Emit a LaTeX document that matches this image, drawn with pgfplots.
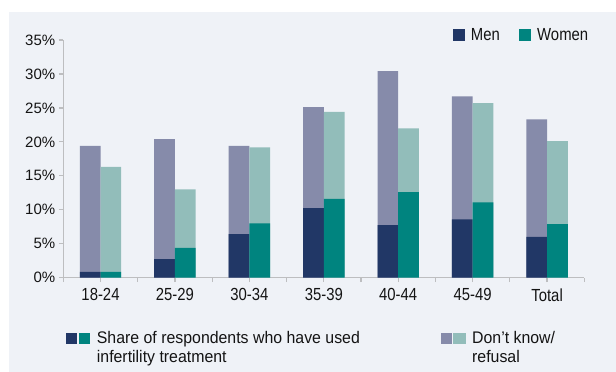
\documentclass[border=0pt]{standalone}
\usepackage{pgfplots}
\pgfplotsset{compat=1.18}
\usepackage{fontspec}
\setmainfont{Liberation Sans}
\newfontfamily\condA{Liberation Sans}[FakeStretch=0.85]
\newfontfamily\condB{Liberation Sans}[FakeStretch=0.945]

\definecolor{panel}{HTML}{EFF2F7}
\definecolor{menD}{HTML}{213766}
\definecolor{womD}{HTML}{00847F}
\definecolor{menL}{HTML}{868BAA}
\definecolor{womL}{HTML}{92BDBA}
\definecolor{axgray}{HTML}{BDBEC0}
\definecolor{txt}{HTML}{141414}

% totals (treatment + don't know) and treatment share, in %
\pgfplotstableread{
x menall womall mentr womtr
0 19.4 16.3 0.85 0.85
1 20.4 13.0 2.75 4.4
2 19.4 19.2 6.4 8.0
3 25.1 24.4 10.25 11.6
4 30.4 22.0 7.75 12.6
5 26.7 25.7 8.6 11.1
6 23.3 20.1 6.0 7.9
}\agedata

\begin{document}
\begin{tikzpicture}[x=1pt,y=1pt]
\path[use as bounding box] (0,0) rectangle (616,372);
\fill[panel] (9,0) rectangle (616,359.5);

\begin{axis}[
  at={(63.3pt,94.3pt)}, anchor=south west,
  scale only axis, width=521pt, height=237.7pt,
  xmin=-0.5, xmax=6.5, ymin=0, ymax=35,
  axis x line*=bottom, axis y line*=left,
  axis line style={axgray, line width=1.4pt, -},
  ybar, bar width=20.7pt,
  ytick={0,5,...,35},
  yticklabel={\pgfmathprintnumber{\tick}\%},
  /pgf/number format/assume math mode=true,
  yticklabel style={font=\fontsize{15}{15}\selectfont, text=txt},
  xtick={0,...,6},
  xticklabels={18-24,25-29,30-34,35-39,40-44,45-49,Total},
  minor xtick={-0.5,0.5,...,6.5},
  xticklabel style={font=\condA\fontsize{17.5}{17.5}\selectfont, text=txt, yshift=-3pt},
  tick align=outside,
  major tick length=4.5pt, minor tick length=4.5pt,
  tick style={axgray, line width=1.2pt},
]
\addplot[fill=menL, draw=none, bar shift=-10.35pt] table[x=x, y=menall] {\agedata};
\addplot[fill=womL, draw=none, bar shift=10.35pt] table[x=x, y=womall] {\agedata};
\addplot[fill=menD, draw=none, bar shift=-10.35pt] table[x=x, y=mentr] {\agedata};
\addplot[fill=womD, draw=none, bar shift=10.35pt] table[x=x, y=womtr] {\agedata};
\end{axis}

% top legend
\fill[menD] (453,331.3) rectangle (464.7,342.7);
\node[anchor=base west, inner sep=0, text=txt, font=\condA\fontsize{17.5}{17.5}\selectfont] at (470.7,331) {Men};
\fill[womD] (519,331.3) rectangle (530.7,342.7);
\node[anchor=base west, inner sep=0, text=txt, font=\condA\fontsize{17.5}{17.5}\selectfont] at (537,331) {Women};

% bottom legend
\fill[menD] (66,28) rectangle (77.3,39.3);
\fill[womD] (78.7,28) rectangle (90,39.3);
\node[anchor=base west, inner sep=0, text=txt, font=\condB\fontsize{16.8}{16.8}\selectfont] at (96.7,28) {Share of respondents who have used};
\node[anchor=base west, inner sep=0, text=txt, font=\condB\fontsize{16.8}{16.8}\selectfont] at (96.7,9) {infertility treatment};
\fill[menL] (441.3,28) rectangle (451.7,39.3);
\fill[womL] (453.3,28) rectangle (466,39.3);
\node[anchor=base west, inner sep=0, text=txt, font=\condB\fontsize{16.8}{16.8}\selectfont] at (472,28) {Don’t know/};
\node[anchor=base west, inner sep=0, text=txt, font=\condB\fontsize{16.8}{16.8}\selectfont] at (472,9) {refusal};
\end{tikzpicture}
\end{document}
